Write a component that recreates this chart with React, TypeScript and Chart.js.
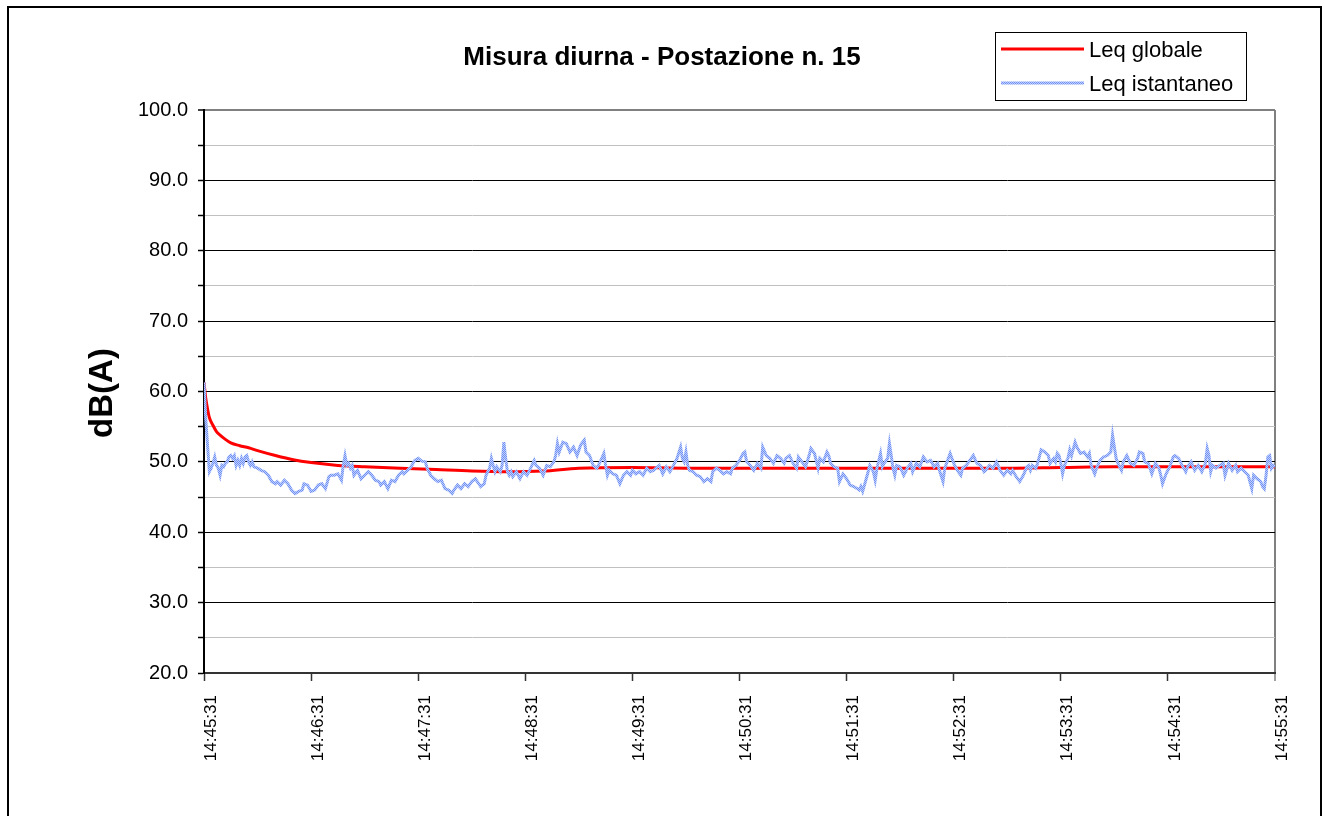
import React, { useEffect, useRef } from 'react';
import { Chart, registerables } from 'chart.js';

Chart.register(...registerables);

// ---- Data ----
const CHART_TITLE = 'Misura diurna - Postazione n. 15';
const Y_AXIS_TITLE = 'dB(A)';
const START_TIME = '14:45:31';
const SERIES_NAMES = ['Leq globale', 'Leq istantaneo'];
const X_TICK_SECONDS = [0, 60, 120, 180, 240, 300, 360, 420, 480, 540, 600];
const Y_MIN = 20;
const Y_MAX = 100;

// Leq globale (running Leq), seconds from start / dB(A)
const globalSeconds = [0, 1, 2, 3, 5, 7, 9, 12, 15, 20, 25, 30, 40, 50, 60, 75, 90, 110, 130, 150, 170, 190, 210, 240, 270, 300, 330, 360, 390, 420, 450, 480, 510, 540, 570, 600];
const globalLevels = [61.3, 59.0, 57.5, 56.3, 55.2, 54.3, 53.8, 53.2, 52.7, 52.3, 52.0, 51.6, 50.9, 50.3, 49.9, 49.5, 49.3, 49.1, 48.9, 48.7, 48.6, 48.7, 49.1, 49.2, 49.1, 49.1, 49.1, 49.1, 49.1, 49.1, 49.1, 49.2, 49.3, 49.3, 49.3, 49.3];

// Leq istantaneo, seconds from start / dB(A)
const instSeconds = [
  0, 1, 3, 4, 5, 6, 7, 8, 9, 10, 11, 12, 13, 14, 15, 16, 17, 18, 19, 20, 21, 22, 23, 24, 25, 26, 27, 28, 30, 32, 34, 36, 38, 40, 41, 43, 45, 47, 49, 51, 53, 55, 56, 58, 60, 62, 64, 66, 68, 70, 71, 73, 75, 77, 78, 79, 80, 81, 82, 83, 84, 86, 88, 90, 92, 94, 96, 98, 99, 101, 103, 105, 107, 109, 111, 112, 114, 116, 118, 120, 122, 124, 125, 127, 129, 131, 133, 135, 137, 139, 140, 142, 144, 146, 148, 150, 152,
  155, 157, 158, 160, 161, 162, 163, 164, 166, 167, 168, 169, 170, 171, 172, 173, 175, 177, 179, 181, 183, 185, 186, 188, 190, 192, 194, 196, 197, 198, 199, 201, 203, 205, 207, 209, 211, 213, 214, 216, 218, 220, 222, 224, 225, 226, 227, 229, 231, 233, 235, 237, 239, 240, 242, 244, 246, 248, 250, 252, 254, 255, 257, 259, 261, 263, 265, 267, 268, 269, 270, 271, 272, 274, 276, 278, 280, 282, 284, 285, 287, 289, 291, 293, 295, 296, 298, 300, 302, 303, 304, 306,
  308, 310, 312, 313, 315, 317, 319, 321, 323, 325, 326, 328, 330, 332, 333, 335, 337, 339, 340, 342, 344, 345, 347, 349, 350, 351, 353, 355, 356, 358, 360, 362, 364, 366, 367, 368, 369, 371, 373, 375, 376, 377, 379, 380, 381, 383, 384, 385, 386, 387, 388, 390, 392, 394, 396, 397, 399, 401, 403, 405, 407, 409, 411, 412, 414, 415, 416, 418, 420, 422, 424, 425, 427, 429, 431, 433, 435, 437, 438, 440, 442, 444, 446, 448, 450, 452, 453, 455, 457,
  459, 461, 462, 463, 464, 466, 467, 469, 471, 473, 474, 476, 477, 478, 479, 480, 481, 482, 484, 485, 486, 488, 489, 491, 493, 495, 496, 497, 499, 500, 502, 504, 506, 508, 509, 510, 511, 512, 514, 515, 517, 519, 521, 523, 524, 526, 527, 529, 531, 533, 535, 536, 537, 539, 541, 543, 544, 546, 548, 550, 551, 553, 555, 557, 559, 561, 562, 563, 564, 565, 567, 569, 571, 572, 574, 576, 578, 579, 581, 583, 585, 587, 588, 590, 592, 593, 594, 595, 596, 597, 598, 599, 600,
];
const instLevels = [
  61.3, 56.0, 48.6, 49.1, 49.8, 50.7, 49.5, 49.1, 48.1, 49.5, 49.3, 49.8, 50.0, 50.7, 50.9, 50.5, 50.9, 49.5, 50.2, 49.5, 50.5, 49.8, 50.7, 50.9, 50.0, 49.5, 50.0, 49.3, 49.1, 48.8, 48.6, 48.1, 47.2, 46.9, 47.2, 46.7, 47.4, 46.9, 46.0, 45.5, 45.8, 46.0, 46.9, 46.7, 45.8, 46.0, 46.7, 46.9, 46.2, 47.9, 48.1, 48.1, 48.3, 47.4, 49.5, 50.9, 49.5, 49.8, 49.1, 49.5, 48.1, 48.8, 47.6, 48.1, 48.6, 48.1, 47.4, 47.2, 46.7, 47.2, 46.2, 47.4, 47.2, 48.1, 48.6, 48.3, 48.8, 49.3, 50.2, 50.5, 50.1, 50.0, 49.1, 48.1, 47.6, 47.2, 47.4, 46.2, 46.0, 45.5, 46.0, 46.7, 46.2, 46.9, 46.5, 47.2, 47.6,
  46.5, 46.9, 48.1, 49.1, 50.5, 49.5, 48.6, 49.3, 48.6, 49.5, 52.8, 50.5, 48.6, 48.1, 48.6, 47.9, 48.6, 47.6, 48.6, 48.1, 49.1, 50.2, 49.5, 49.1, 48.1, 49.5, 49.3, 50.0, 50.9, 52.6, 51.4, 52.8, 52.6, 51.4, 52.1, 50.9, 52.4, 53.1, 51.4, 50.9, 49.5, 49.1, 50.0, 51.2, 49.5, 48.1, 48.8, 48.3, 48.1, 46.9, 48.1, 48.6, 48.1, 48.8, 48.3, 48.6, 48.1, 49.1, 48.6, 48.8, 49.3, 49.5, 48.3, 49.3, 48.6, 49.5, 50.5, 52.1, 50.5, 50.0, 51.4, 49.5, 48.8, 48.6, 48.1, 47.9, 47.2, 47.6, 47.2, 48.6, 49.1, 48.8, 48.3, 48.6, 48.3, 49.1, 49.5, 50.2, 51.2, 51.4, 50.0, 49.5,
  48.8, 49.8, 49.1, 52.1, 50.9, 50.5, 49.8, 50.9, 50.5, 49.8, 50.5, 50.9, 49.8, 49.1, 50.7, 50.0, 49.3, 50.9, 51.9, 51.2, 49.1, 50.5, 50.0, 51.4, 50.9, 49.8, 49.3, 49.1, 47.2, 48.3, 47.6, 46.7, 46.5, 46.2, 46.0, 46.5, 45.8, 47.6, 49.5, 48.6, 47.4, 49.1, 51.2, 49.3, 49.8, 50.5, 52.6, 50.9, 49.1, 48.1, 49.5, 49.3, 48.1, 49.1, 49.8, 48.6, 49.8, 49.3, 50.7, 50.0, 50.2, 49.3, 49.8, 48.8, 47.2, 49.1, 49.8, 51.2, 49.8, 48.8, 48.1, 49.1, 49.5, 50.2, 50.9, 49.8, 49.5, 48.6, 48.8, 49.5, 49.1, 50.0, 48.8, 48.1, 48.8, 48.3, 48.8, 47.9, 47.2,
  48.1, 49.3, 49.5, 48.8, 49.5, 49.1, 49.8, 51.7, 51.4, 50.9, 49.8, 50.5, 50.0, 51.2, 50.9, 49.8, 48.3, 49.5, 50.5, 51.7, 50.9, 52.8, 52.1, 51.2, 51.4, 50.7, 51.2, 49.5, 48.3, 49.1, 50.2, 50.7, 50.9, 51.4, 53.8, 52.1, 50.5, 49.8, 48.8, 50.0, 50.9, 49.8, 49.5, 50.5, 51.4, 51.2, 50.0, 49.8, 48.3, 49.8, 49.1, 48.1, 46.9, 48.3, 49.3, 50.7, 50.9, 50.5, 49.5, 48.6, 49.3, 50.0, 48.8, 49.5, 48.6, 49.8, 51.9, 50.9, 48.6, 49.5, 49.1, 49.5, 49.8, 48.1, 49.8, 48.8, 49.5, 48.6, 49.1, 48.6, 48.1, 46.2, 48.1, 47.6, 47.2, 46.5, 46.2, 48.1, 50.7, 50.9, 49.1, 49.5, 49.3,
];

const FONT = '"Liberation Sans", Arial, Helvetica, sans-serif';

function toClock(offset: number): string {
  const [h, m, s] = START_TIME.split(':').map(Number);
  const total = h * 3600 + m * 60 + s + Math.round(offset);
  const hh = Math.floor(total / 3600) % 24;
  const mm = Math.floor((total % 3600) / 60);
  const ss = total % 60;
  const p = (n: number) => String(n).padStart(2, '0');
  return `${p(hh)}:${p(mm)}:${p(ss)}`;
}

const decorPlugin = {
  id: 'decor',
  afterDraw(chart: any) {
    const ctx = chart.ctx as CanvasRenderingContext2D;
    ctx.save();
    // Title
    ctx.fillStyle = '#000';
    ctx.font = `bold 26px ${FONT}`;
    ctx.textAlign = 'center';
    ctx.textBaseline = 'alphabetic';
    ctx.fillText(CHART_TITLE, 662, 65);

    // Y axis title
    ctx.save();
    ctx.translate(112, 393);
    ctx.rotate(-Math.PI / 2);
    ctx.font = `bold 33px ${FONT}`;
    ctx.textAlign = 'center';
    ctx.fillText(Y_AXIS_TITLE, 0, 0);
    ctx.restore();

    // Legend box
    ctx.lineWidth = 1;
    ctx.strokeStyle = '#000';
    ctx.strokeRect(995.5, 32.5, 251, 68);
    const ds = chart.data.datasets;
    const rows = [49, 83];
    ds.forEach((d: any, i: number) => {
      ctx.beginPath();
      ctx.strokeStyle = d.borderColor;
      ctx.lineWidth = d.borderWidth;
      ctx.moveTo(1001, rows[i]);
      ctx.lineTo(1084, rows[i]);
      ctx.stroke();
      ctx.fillStyle = '#000';
      ctx.font = `22px ${FONT}`;
      ctx.textAlign = 'left';
      ctx.textBaseline = 'alphabetic';
      ctx.fillText(d.label, 1089, rows[i] + 8);
    });
    ctx.restore();
  },
};

export default function App() {
  const canvasRef = useRef<HTMLCanvasElement | null>(null);

  useEffect(() => {
    const canvas = canvasRef.current;
    if (!canvas) return;
    const c2d = canvas.getContext('2d') as CanvasRenderingContext2D;

    const tile = document.createElement('canvas');
    tile.width = 2;
    tile.height = 2;
    const tctx = tile.getContext('2d') as CanvasRenderingContext2D;
    tctx.fillStyle = '#BFD0FF';
    tctx.fillRect(0, 0, 2, 2);
    tctx.fillStyle = '#6F90F2';
    tctx.fillRect(0, 0, 1, 1);
    tctx.fillRect(1, 1, 1, 1);
    const bluePattern = c2d.createPattern(tile, 'repeat');

    const chart = new Chart(canvas, {
      type: 'line',
      data: {
        datasets: [
          {
            label: SERIES_NAMES[0],
            data: globalSeconds.map((t, i) => ({ x: t, y: globalLevels[i] })),
            borderColor: '#FF0000',
            borderWidth: 3,
            pointRadius: 0,
            cubicInterpolationMode: 'monotone',
            order: 1,
          },
          {
            label: SERIES_NAMES[1],
            data: instSeconds.map((t, i) => ({ x: t, y: instLevels[i] })),
            borderColor: bluePattern as any,
            borderWidth: 3,
            pointRadius: 0,
            tension: 0,
            order: 0,
          },
        ],
      },
      options: {
        animation: false,
        responsive: false,
        devicePixelRatio: 1,
        events: [],
        layout: { padding: { top: 110, right: 50, left: 0, bottom: 0 } },
        plugins: {
          legend: { display: false },
          title: { display: false },
          tooltip: { enabled: false },
        },
        scales: {
          x: {
            type: 'linear',
            min: X_TICK_SECONDS[0],
            max: X_TICK_SECONDS[X_TICK_SECONDS.length - 1],
            afterFit: (s: any) => {
              s.height = 143;
            },
            afterBuildTicks: (s: any) => {
              s.ticks = X_TICK_SECONDS.map((v) => ({ value: v }));
            },
            ticks: {
              autoSkip: false,
              maxRotation: 90,
              minRotation: 90,
              padding: 14,
              labelOffset: 7,
              color: '#000',
              font: { family: FONT, size: 17 },
              callback: (v: any) => toClock(Number(v)),
            },
            grid: {
              drawOnChartArea: true,
              color: (c: any) => (c.tick && c.tick.value === 600 ? '#808080' : 'rgba(0,0,0,0)'),
              lineWidth: (c: any) => (c.tick && c.tick.value === 600 ? 2 : 1),
              tickColor: (c: any) => (c.tick && c.tick.value === 600 ? '#808080' : '#333'),
              tickLength: 8,
              tickWidth: 1.5,
            },
            border: { display: true, color: '#333', width: 2 },
          },
          y: {
            type: 'linear',
            min: Y_MIN,
            max: Y_MAX,
            afterFit: (s: any) => {
              s.width = 204;
            },
            ticks: {
              stepSize: 5,
              autoSkip: false,
              padding: 10,
              color: '#000',
              font: { family: FONT, size: 20 },
              callback: (v: any) => {
                const n = Math.round(Number(v) * 10) / 10;
                return n % 10 === 0 ? n.toFixed(1) : '';
              },
            },
            grid: {
              color: (c: any) => {
                const v = c.tick ? Math.round(c.tick.value) : 0;
                if (v === Y_MAX) return '#808080';
                return v % 10 === 0 ? '#000' : '#C0C0C0';
              },
              lineWidth: (c: any) => (c.tick && Math.round(c.tick.value) === Y_MAX ? 2 : 1),
              tickColor: '#000',
              tickLength: 6,
              tickWidth: 1.5,
            },
            border: { display: true, color: '#000', width: 2 },
          },
        },
      },
      plugins: [decorPlugin],
    } as any);

    return () => {
      chart.destroy();
    };
  }, []);

  return (
    <div style={{ position: 'absolute', left: 0, top: 0, width: 1325, height: 816, overflow: 'hidden', background: '#fff' }}>
      <div
        style={{
          position: 'absolute',
          left: 7,
          top: 6,
          width: 1315,
          height: 840,
          border: '2px solid #000',
          boxSizing: 'border-box',
        }}
      />
      <canvas
        ref={canvasRef}
        width={1325}
        height={816}
        style={{ position: 'absolute', left: 0, top: 0, width: 1325, height: 816 }}
      />
    </div>
  );
}
